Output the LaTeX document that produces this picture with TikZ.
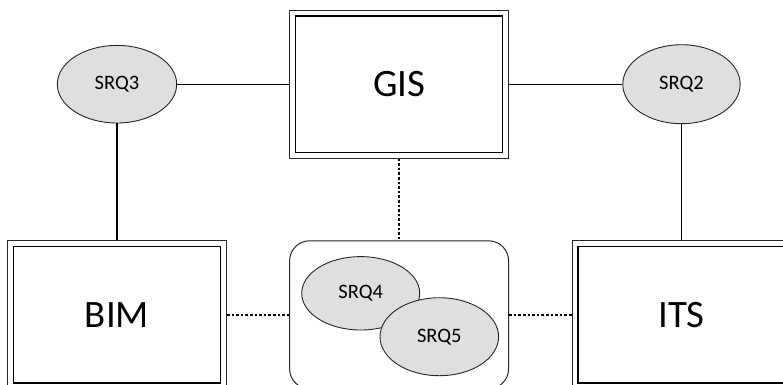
\documentclass[tikz,border=0pt]{standalone}
\usepackage{fontspec}
\setmainfont{Carlito}
\usetikzlibrary{shapes.geometric}

\tikzset{
  sysbox/.style={
    draw=black!85, line width=0.8pt, rectangle,
    minimum width=219pt, minimum height=148pt, inner sep=0pt,
    font=\fontsize{38.8}{42}\selectfont
  },
  innerframe/.style={draw=black, line width=1.3pt},
  holder/.style={
    draw=black!85, line width=1pt, rectangle, rounded corners=20pt,
    minimum width=219pt, minimum height=148pt, inner sep=0pt
  },
  srq/.style={
    ellipse, draw=black!85, line width=0.9pt, fill=gray!25, inner sep=0pt,
    font=\fontsize{20.5}{22}\selectfont
  },
  link/.style={draw=black, line width=1.3pt},
  weak/.style={draw=black, line width=1.4pt, dash pattern=on 2.6pt off 2pt}
}

\begin{document}
\begin{tikzpicture}[x=1pt, y=-1pt]
  \path[use as bounding box, clip] (0,0) rectangle (783,384);

  % system boxes
  \node[sysbox] (gis) at (399.1,84.2) {GIS};
  \node[sysbox] (bim) at (117,314.8) {BIM};
  \node[sysbox] (its) at (681.5,314.8) {ITS};

  % inner frame of each system box (double border)
  \foreach \b in {gis,bim,its}
    \draw[innerframe] ([shift={(6.3pt,-6.3pt)}]\b.north west) rectangle
                      ([shift={(-6.3pt,6.3pt)}]\b.south east);

  % shared requirements container
  \node[holder] (shared) at (399.1,314.8) {};

  % requirement ellipses
  \node[srq, minimum width=119.4pt, minimum height=77.6pt] (srq3) at (117,84.2) {SRQ3};
  \node[srq, minimum width=117.4pt, minimum height=79pt] (srq2) at (681.5,84.2) {SRQ2};
  \node[srq, minimum width=118pt, minimum height=73.4pt] (srq4) at (360.7,293.3) {SRQ4};
  \node[srq, minimum width=118.6pt, minimum height=78pt] (srq5) at (439.3,336.7) {SRQ5};

  % solid links
  \draw[link] (gis.west) -- (srq3.east);
  \draw[link] (gis.east) -- (srq2.west);
  \draw[link] (srq3.south) -- (bim.north);
  \draw[link] (srq2.south) -- (its.north);

  % dotted links
  \draw[weak] (gis.south) -- (shared.north);
  \draw[weak] (bim.east) -- (shared.west);
  \draw[weak] (shared.east) -- (its.west);
\end{tikzpicture}
\end{document}
